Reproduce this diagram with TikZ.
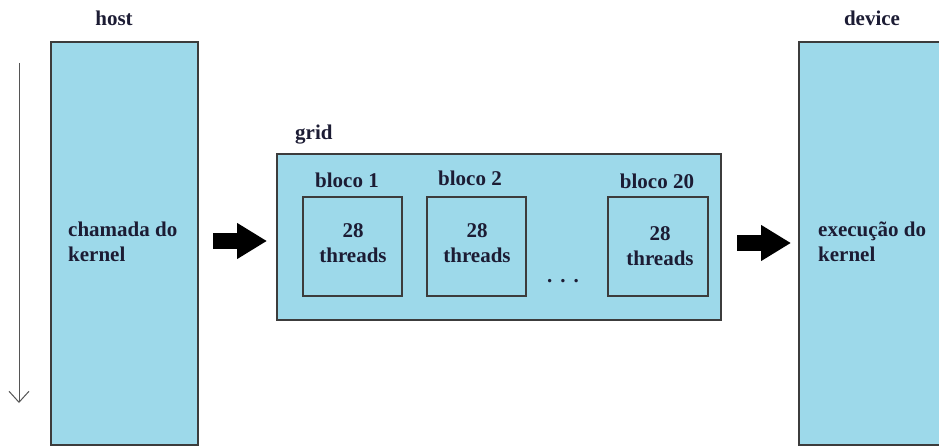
\documentclass[tikz,border=0pt]{standalone}
\usepackage{fontspec}
\setmainfont{Liberation Serif}
\usetikzlibrary{arrows.meta}
\definecolor{boxfill}{RGB}{157,217,234}
\definecolor{boxline}{RGB}{60,60,60}
\definecolor{ink}{RGB}{28,28,52}
\definecolor{timegray}{RGB}{85,85,85}
\begin{document}
\begin{tikzpicture}[x=1pt,y=-1pt,
  panel/.style={draw=boxline, line width=1.5pt, fill=boxfill, inner sep=0pt, outer sep=0pt},
  lbl/.style={font=\bfseries\fontsize{21}{25}\selectfont, text=ink, inner sep=0pt},
  bigarrow/.style={draw=black, line width=16pt, -{Triangle[length=30pt,width=34pt]}},
  timeline/.style={draw=timegray, line width=1pt, -{Straight Barb[length=11pt,width=20pt]}}]
\useasboundingbox (0,0) rectangle (939,446);

% host and device columns
\node[panel, minimum width=147pt, minimum height=403pt] (host) at (124.5,243.5) {};
\node[panel, minimum width=161pt, minimum height=403pt] (device) at (879.5,243.5) {};
\node[lbl] (hostlbl) at (114,18) {host};
\node[lbl] (devicelbl) at (872,18) {device};
\node[lbl, align=left, anchor=north west] (call) at (68,222) {chamada do\\kernel};
\node[lbl, align=left, anchor=north west] (exec) at (818,222) {execução do\\kernel};

% time axis
\coordinate (tA) at (19,63);
\coordinate (tB) at (19,403);
\draw[timeline] (tA) -- (tB);

% grid of blocks
\node[panel, minimum width=444pt, minimum height=166pt] (grid) at (499,237) {};
\node[lbl, anchor=west] (gridlbl) at (295,135) {grid};
\node[panel, minimum width=99pt, minimum height=99pt] (b1) at (352.5,246.5) {};
\node[panel, minimum width=99pt, minimum height=99pt] (b2) at (476.5,246.5) {};
\node[panel, minimum width=100pt, minimum height=99pt] (b3) at (658,246.5) {};
\node[lbl] (b1lbl) at (347,180) {bloco 1};
\node[lbl] (b2lbl) at (470,178) {bloco 2};
\node[lbl] (b3lbl) at (657,181) {bloco 20};
\node[lbl, align=center] (b1txt) at (353,243) {28\\threads};
\node[lbl, align=center] (b2txt) at (477,243) {28\\threads};
\node[lbl, align=center] (b3txt) at (660,246) {28\\threads};
\node[lbl] (dots) at (563,281) {.\hspace{8pt}.\hspace{8pt}.};

% launch arrows
\coordinate (hgA) at (213,241);
\coordinate (hgB) at (267,241);
\coordinate (gdA) at (737,243);
\coordinate (gdB) at (791,243);
\draw[bigarrow] (hgA) -- (hgB);
\draw[bigarrow] (gdA) -- (gdB);
\end{tikzpicture}
\end{document}
